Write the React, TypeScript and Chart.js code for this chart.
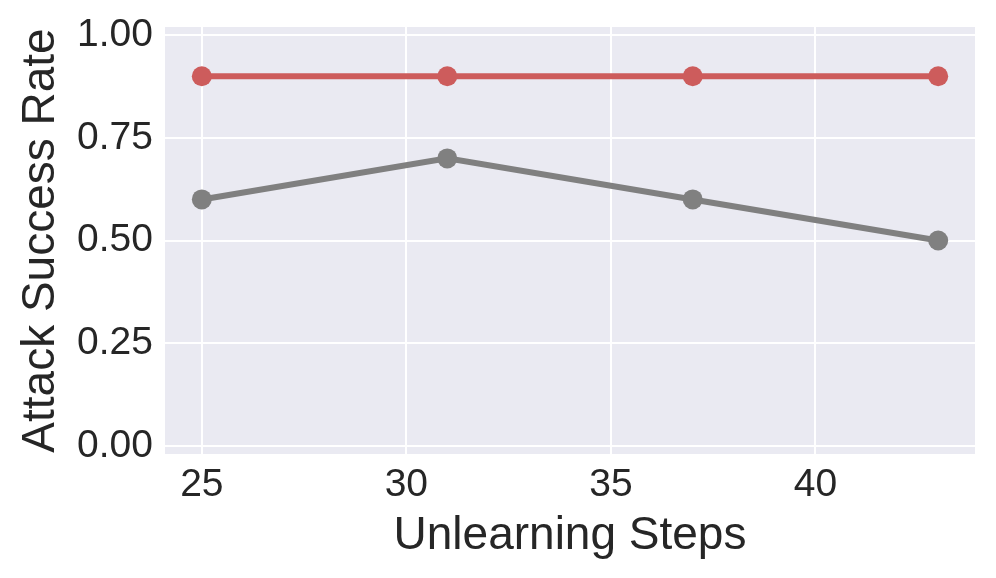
import React, { useEffect, useRef } from "react";
import { Chart, registerables } from "chart.js";

Chart.register(...registerables);

const steps = [25, 31, 37, 43];
const redSeries = [0.9, 0.9, 0.9, 0.9];
const graySeries = [0.6, 0.7, 0.6, 0.5];
const xTicks = [25, 30, 35, 40];
const yTicks = [0, 0.25, 0.5, 0.75, 1.0];

const bgPlugin = {
  id: "plotBg",
  beforeDraw(chart: any) {
    const { ctx, chartArea } = chart;
    ctx.save();
    ctx.fillStyle = "#EAEAF2";
    ctx.fillRect(chartArea.left, chartArea.top, chartArea.right - chartArea.left, chartArea.bottom - chartArea.top);
    ctx.restore();
  },
};

export default function App() {
  const ref = useRef<HTMLCanvasElement>(null);
  useEffect(() => {
    const canvas = ref.current!;
    const font = "'Liberation Sans', Arial, sans-serif";
    const chart = new Chart(canvas, {
      type: "line",
      data: {
        datasets: [
          {
            data: steps.map((s, i) => ({ x: s, y: redSeries[i] })),
            borderColor: "#CD5C5C",
            backgroundColor: "#CD5C5C",
            borderWidth: 6,
            pointRadius: 10,
            pointBorderWidth: 0,
            tension: 0,
          },
          {
            data: steps.map((s, i) => ({ x: s, y: graySeries[i] })),
            borderColor: "#808080",
            backgroundColor: "#808080",
            borderWidth: 6,
            pointRadius: 10,
            pointBorderWidth: 0,
            tension: 0,
          },
        ],
      },
      options: {
        animation: false,
        responsive: false,
        devicePixelRatio: 1,
        layout: { padding: { top: 27, right: 21, left: 0, bottom: 0 } },
        plugins: { legend: { display: false }, tooltip: { enabled: false } },
        scales: {
          x: {
            type: "linear",
            min: 24.1,
            max: 43.9,
            afterBuildTicks: (s: any) => {
              s.ticks = xTicks.map((v) => ({ value: v }));
            },
            afterFit: (s: any) => {
              s.height = 124;
              s.paddingLeft = 0;
              s.paddingRight = 0;
            },
            grid: { color: "#ffffff", lineWidth: 2, drawTicks: false },
            border: { display: false },
            ticks: {
              color: "#262626",
              font: { family: font, size: 39 },
              padding: 8,
              callback: (v: any) => String(v),
            },
            title: {
              display: true,
              text: "Unlearning Steps",
              color: "#262626",
              font: { family: font, size: 46 },
              padding: { top: 0, bottom: 14 },
            },
          },
          y: {
            type: "linear",
            min: -0.02,
            max: 1.02,
            afterBuildTicks: (s: any) => {
              s.ticks = yTicks.map((v) => ({ value: v }));
            },
            afterFit: (s: any) => {
              s.width = 165;
              s.paddingTop = 0;
              s.paddingBottom = 0;
            },
            grid: { color: "#ffffff", lineWidth: 2, drawTicks: false },
            border: { display: false },
            ticks: {
              color: "#262626",
              font: { family: font, size: 39 },
              padding: 12,
              callback: (v: any) => Number(v).toFixed(2),
            },
            title: {
              display: true,
              text: "Attack Success Rate",
              color: "#262626",
              font: { family: font, size: 46 },
              padding: { top: 14, bottom: 0 },
            },
          },
        },
      },
      plugins: [bgPlugin],
    });
    return () => chart.destroy();
  }, []);
  return (
    <div style={{ position: "absolute", left: 0, top: 0, width: 996, height: 578, background: "#fff" }}>
      <canvas ref={ref} width={996} height={578} style={{ display: "block", width: 996, height: 578 }} />
    </div>
  );
}
